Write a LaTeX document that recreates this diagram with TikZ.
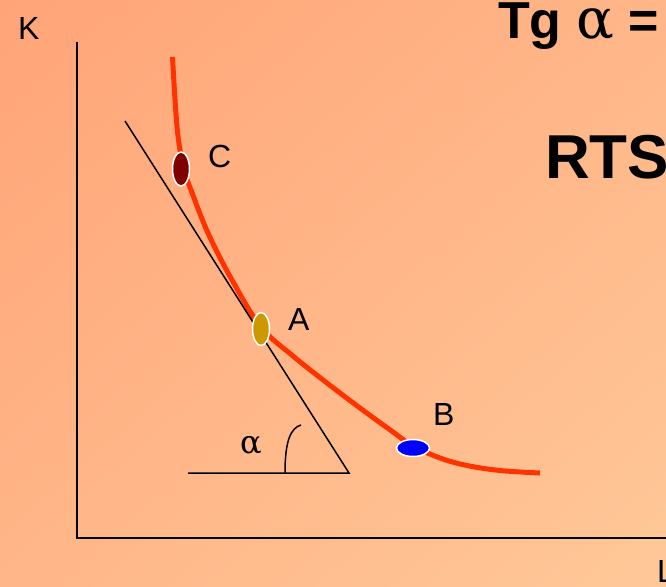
\documentclass[tikz,border=0pt]{standalone}
\usepackage{fontspec}
\setmainfont{Liberation Sans}
\newfontfamily\grk{DejaVu Serif}
\usetikzlibrary{shapes.geometric,shadings}

\definecolor{bgdark}{RGB}{255,164,120}
\definecolor{bgmid}{RGB}{255,182,136}
\definecolor{bglight}{RGB}{255,200,152}
\definecolor{curvered}{RGB}{255,51,0}
\definecolor{pointc}{RGB}{128,0,0}
\definecolor{pointa}{RGB}{204,153,0}
\definecolor{pointb}{RGB}{0,0,255}

\begin{document}
\begin{tikzpicture}[
  x=1pt,y=-1pt,
  letter/.style={inner sep=0pt,anchor=base west,font=\fontsize{32}{36}\selectfont},
  title/.style={inner sep=0pt,anchor=base west,font=\bfseries\fontsize{#1}{#1}\selectfont},
  spot/.style={ellipse,draw=white,line width=1.5pt,inner sep=0pt,fill=#1},
  isoquant/.style={curvered,line width=5pt}
]
  \useasboundingbox (0,0) rectangle (666,586);
  \clip (0,0) rectangle (666,586);
  \shade[upper left=bgdark,upper right=bgmid,lower left=bgmid,lower right=bglight]
    (0,0) rectangle (666,586);

  % axes
  \coordinate (top) at (77,42);
  \coordinate (origin) at (77,538);
  \coordinate (right) at (666,538);
  \draw[line width=1.6pt] (top) -- (origin) -- (right);
  \node[letter] (k) at (18,40) {K};
  \node[letter] (l) at (657,582) {L};

  % isoquant
  \draw[isoquant] plot[smooth,tension=0.6] coordinates {
    (172.5,57) (175.5,107) (178.5,140) (184,170) (191,190) (208,233)
    (232,280) (261,327) (293,356) (327,383) (360,408) (393,432)
    (413,446) (440,458) (467,465.5) (500,470.5) (540,473)};

  % tangent and angle
  \coordinate (tanstart) at (125,121);
  \coordinate (apex) at (349,473);
  \coordinate (base) at (188,473);
  \draw[line width=1.5pt] (tanstart) -- (apex) -- (base);
  \draw[line width=1.5pt] (285,473) .. controls (285,440) and (291,428) .. (301,425);
  \node[inner sep=0pt,font=\grk\fontsize{32}{36}\selectfont] (alpha) at (251,445) {α};

  % points
  \node[spot=pointc,minimum width=17pt,minimum height=34pt] (c) at (181,169) {};
  \node[spot=pointa,minimum width=17pt,minimum height=33pt] (a) at (261,329) {};
  \node[spot=pointb,minimum width=33pt,minimum height=17pt] (b) at (413,448) {};
  \node[letter] (clabel) at (208,167) {C};
  \node[letter] (alabel) at (288,330) {A};
  \node[letter] (blabel) at (433,425) {B};

  % formula
  \node[title=52] (tg) at (498,39) {Tg {\grk\mdseries\fontsize{56}{56}\selectfont α} =};
  \node[title=62] (rts) at (545,178) {RTS};
\end{tikzpicture}
\end{document}
